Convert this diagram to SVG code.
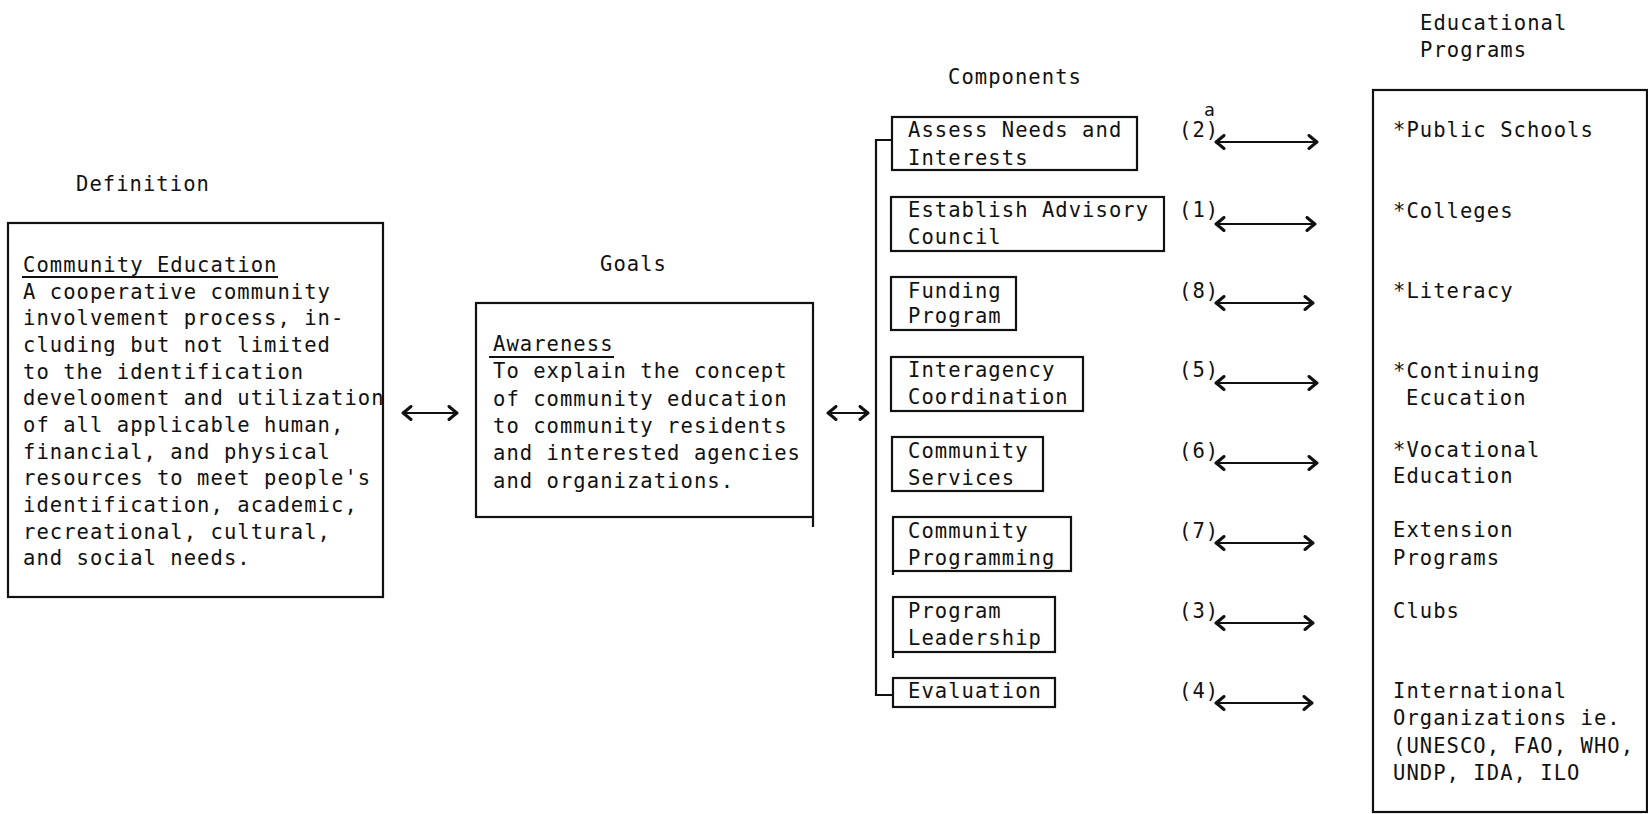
<svg xmlns="http://www.w3.org/2000/svg" width="1648" height="814" viewBox="0 0 1648 814">
  <style>
    text { font-family: "DejaVu Sans Mono", "Liberation Mono", monospace; font-size: 20.5px; letter-spacing: 1.05px; fill: #111; }
    .box { fill: none; stroke: #111; stroke-width: 2.2; }
    .wire { fill: none; stroke: #111; stroke-width: 2.2; }
    .arrow { fill: none; stroke: #111; stroke-width: 2.2; marker-start: url(#head); marker-end: url(#head); }
    .sup { font-size: 18px; letter-spacing: 0; }
  </style>
  <defs>
    <marker id="head" viewBox="-12 -8 14 16" refX="0" refY="0" markerWidth="14" markerHeight="16" markerUnits="userSpaceOnUse" orient="auto-start-reverse">
      <path d="M-8,-6.5 Q-4,-3 0,0 Q-4,3 -8,6.5" fill="none" stroke="#111" stroke-width="3" stroke-linecap="round" stroke-linejoin="round"/>
    </marker>
  </defs>
  <rect width="1648" height="814" fill="#fff"/>

  <!-- column headings -->
  <text x="76" y="191">Definition</text>
  <text x="600" y="271">Goals</text>
  <text x="948" y="84">Components</text>
  <text x="1420" y="30">Educational</text>
  <text x="1420" y="57">Programs</text>

  <!-- definition -->
  <g id="definition">
    <rect class="box" x="8" y="223" width="375" height="374"/>
    <text x="23" y="272">Community Education</text>
    <line class="wire" x1="22" y1="277" x2="278" y2="277"/>
    <text x="23" y="299">A cooperative community</text>
    <text x="23" y="325">involvement process, in-</text>
    <text x="23" y="352">cluding but not limited</text>
    <text x="23" y="379">to the identification</text>
    <text x="23" y="405">develooment and utilization</text>
    <text x="23" y="432">of all applicable human,</text>
    <text x="23" y="459">financial, and physical</text>
    <text x="23" y="485">resources to meet people's</text>
    <text x="23" y="512">identification, academic,</text>
    <text x="23" y="539">recreational, cultural,</text>
    <text x="23" y="565">and social needs.</text>
  </g>

  <!-- goals -->
  <g id="goals">
    <rect class="box" x="476" y="303" width="337" height="214"/>
    <line class="wire" x1="813" y1="517" x2="813" y2="527"/>
    <text x="493" y="351">Awareness</text>
    <line class="wire" x1="489" y1="357" x2="614" y2="357"/>
    <text x="493" y="378">To explain the concept</text>
    <text x="493" y="406">of community education</text>
    <text x="493" y="433">to community residents</text>
    <text x="493" y="460">and interested agencies</text>
    <text x="493" y="488">and organizations.</text>
  </g>

  <!-- components -->
  <g id="assess-needs">
    <rect class="box" x="892" y="117" width="245" height="53"/>
    <text x="908" y="137">Assess Needs and</text>
    <text x="908" y="165">Interests</text>
  </g>
  <g id="advisory-council">
    <rect class="box" x="891" y="197" width="273" height="54"/>
    <text x="908" y="217">Establish Advisory</text>
    <text x="908" y="244">Council</text>
  </g>
  <g id="funding">
    <rect class="box" x="891" y="277" width="125" height="53"/>
    <text x="908" y="298">Funding</text>
    <text x="908" y="323">Program</text>
  </g>
  <g id="interagency">
    <rect class="box" x="891" y="357" width="192" height="54"/>
    <text x="908" y="377">Interagency</text>
    <text x="908" y="404">Coordination</text>
  </g>
  <g id="community-services">
    <rect class="box" x="892" y="437" width="151" height="54"/>
    <text x="908" y="458">Community</text>
    <text x="908" y="485">Services</text>
  </g>
  <g id="community-programming">
    <rect class="box" x="893" y="517" width="178" height="54"/>
    <line class="wire" x1="893" y1="571" x2="893" y2="575"/>
    <text x="908" y="538">Community</text>
    <text x="908" y="565">Programming</text>
  </g>
  <g id="program-leadership">
    <rect class="box" x="893" y="597" width="162" height="55"/>
    <line class="wire" x1="893" y1="652" x2="893" y2="658"/>
    <text x="908" y="618">Program</text>
    <text x="908" y="645">Leadership</text>
  </g>
  <g id="evaluation">
    <rect class="box" x="893" y="678" width="162" height="29"/>
    <text x="908" y="698">Evaluation</text>
  </g>

  <!-- ranks -->
  <g id="ranks">
    <text x="1179" y="137">(2)</text>
    <text class="sup" x="1204" y="116">a</text>
    <text x="1179" y="217">(1)</text>
    <text x="1179" y="298">(8)</text>
    <text x="1179" y="377">(5)</text>
    <text x="1179" y="458">(6)</text>
    <text x="1179" y="538">(7)</text>
    <text x="1179" y="618">(3)</text>
    <text x="1179" y="698">(4)</text>
  </g>

  <!-- educational programs -->
  <g id="programs">
    <rect class="box" x="1373" y="90" width="274" height="722"/>
    <text x="1393" y="137">*Public Schools</text>
    <text x="1393" y="218">*Colleges</text>
    <text x="1393" y="298">*Literacy</text>
    <text x="1393" y="378">*Continuing</text>
    <text x="1406" y="405">Ecucation</text>
    <text x="1393" y="457">*Vocational</text>
    <text x="1393" y="483">Education</text>
    <text x="1393" y="537">Extension</text>
    <text x="1393" y="565">Programs</text>
    <text x="1393" y="618">Clubs</text>
    <text x="1393" y="698">International</text>
    <text x="1393" y="725">Organizations ie.</text>
    <text x="1393" y="753">(UNESCO, FAO, WHO,</text>
    <text x="1393" y="780">UNDP, IDA, ILO</text>
  </g>

  <!-- connectors -->
  <g id="connectors">
    <path class="wire" d="M893,140 H876 V695 H893"/>
    <line class="arrow" x1="403" y1="413" x2="457" y2="413"/>
    <line class="arrow" x1="828" y1="413" x2="868" y2="413"/>
    <line class="arrow" x1="1216" y1="142" x2="1317" y2="142"/>
    <line class="arrow" x1="1216" y1="224" x2="1315" y2="224"/>
    <line class="arrow" x1="1216" y1="303" x2="1313" y2="303"/>
    <line class="arrow" x1="1216" y1="383" x2="1317" y2="383"/>
    <line class="arrow" x1="1216" y1="463" x2="1317" y2="463"/>
    <line class="arrow" x1="1216" y1="543" x2="1313" y2="543"/>
    <line class="arrow" x1="1216" y1="623" x2="1313" y2="623"/>
    <line class="arrow" x1="1216" y1="703" x2="1312" y2="703"/>
  </g>
</svg>
